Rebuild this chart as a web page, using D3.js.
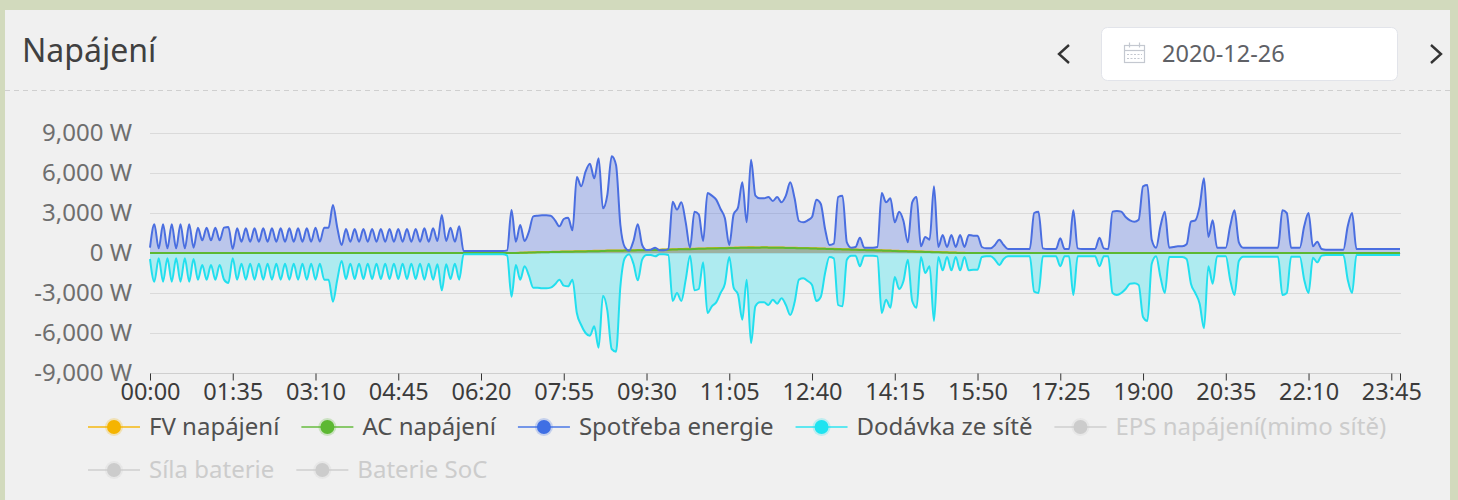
<!DOCTYPE html>
<html>
<head>
<meta charset="utf-8">
<script src="https://cdn.jsdelivr.net/npm/d3@7/dist/d3.min.js"></script>
<style>
html,body{margin:0;padding:0;background:#d2dabd;}
svg{display:block;font-family:"Noto Sans",sans-serif;}
</style>
</head>
<body>
<svg id="chart" width="1458" height="500"></svg>
<script>
// ---------- DATA ----------
const times = d3.range(288).map(i => String(Math.floor(i / 12)).padStart(2, "0") + ":" + String((i % 12) * 5).padStart(2, "0"));
const tickLabels = ["00:00","01:35","03:10","04:45","06:20","07:55","09:30","11:05","12:40","14:15","15:50","17:25","19:00","20:35","22:10","23:45"];
const tickMarks = tickLabels.concat(["23:55"]);
const yTicks = [-9000, -6000, -3000, 0, 3000, 6000, 9000];
const dateLabel = "2020-12-26";
const titleText = "Napájení";

const fvPower = [
0,0,0,0,0,0,0,0,0,0,
0,0,0,0,0,0,0,0,0,0,
0,0,0,0,0,0,0,0,0,0,
0,0,0,0,0,0,0,0,0,0,
0,0,0,0,0,0,0,0,0,0,
0,0,0,0,0,0,0,0,0,0,
0,0,0,0,0,0,0,0,0,0,
0,0,0,0,0,0,0,0,0,0,
0,0,0,0,0,20,30,40,50,60,
70,70,80,90,100,110,110,120,130,140,
140,150,160,160,170,180,180,190,190,200,
200,210,220,220,230,240,250,250,260,270,
280,290,300,310,310,320,330,340,350,360,
370,380,380,390,400,410,410,420,430,420,
420,430,420,410,420,410,400,400,390,380,
380,370,360,350,340,330,320,310,300,290,
280,270,260,250,240,230,220,210,200,190,
180,170,160,150,140,130,120,110,100,90,
80,70,60,50,40,30,20,10,0,0,
0,0,0,0,0,0,0,0,0,0,
0,0,0,0,0,0,0,0,0,0,
0,0,0,0,0,0,0,0,0,0,
0,0,0,0,0,0,0,0,0,0,
0,0,0,0,0,0,0,0,0,0,
0,0,0,0,0,0,0,0,0,0,
0,0,0,0,0,0,0,0,0,0,
0,0,0,0,0,0,0,0,0,0,
0,0,0,0,0,0,0,0,0,0,
0,0,0,0,0,0,0,0
];

const acPower = [
0,0,0,0,0,0,0,0,0,0,
0,0,0,0,0,0,0,0,0,0,
0,0,0,0,0,0,0,0,0,0,
0,0,0,0,0,0,0,0,0,0,
0,0,0,0,0,0,0,0,0,0,
0,0,0,0,0,0,0,0,0,0,
0,0,0,0,0,0,0,0,0,0,
0,0,0,0,0,0,0,0,0,0,
0,0,0,0,0,10,20,30,40,50,
50,60,70,80,80,90,100,100,110,120,
120,130,140,140,150,160,160,170,170,180,
180,190,200,200,210,220,230,230,240,250,
260,270,280,280,290,300,310,320,330,330,
340,350,360,370,380,380,390,400,400,400,
400,410,400,390,400,390,380,380,370,360,
350,350,340,330,320,310,300,290,280,270,
260,250,240,230,220,210,200,190,180,170,
160,150,140,130,120,110,100,90,80,70,
60,50,40,30,20,10,0,0,0,0,
0,0,0,0,0,0,0,0,0,0,
0,0,0,0,0,0,0,0,0,0,
0,0,0,0,0,0,0,0,0,0,
0,0,0,0,0,0,0,0,0,0,
0,0,0,0,0,0,0,0,0,0,
0,0,0,0,0,0,0,0,0,0,
0,0,0,0,0,0,0,0,0,0,
0,0,0,0,0,0,0,0,0,0,
0,0,0,0,0,0,0,0,0,0,
0,0,0,0,0,0,0,0
];

const consumption = [
400,2150,350,2150,350,2150,350,2150,350,2150,
400,1900,950,1900,950,1900,950,1900,1950,300,
1850,850,1850,850,1850,850,1850,850,1850,850,
1850,850,1850,850,1850,850,1850,850,1900,850,
1900,1900,3600,1900,600,1800,850,1800,850,1800,
850,1800,850,1800,850,1800,850,1800,850,1800,
850,1800,850,1850,850,1850,900,2850,900,1900,
850,2000,150,150,150,150,150,150,150,150,
150,150,200,3225,850,2100,900,1600,2750,2800,
2825,2825,2800,2450,2000,2550,2650,1700,5700,5000,
6100,6700,5600,7100,3350,4350,7250,6600,2100,450,
175,900,2150,600,225,250,400,200,200,300,
3850,3250,3800,2300,400,3100,2900,900,4500,4300,
4000,3300,2600,600,2900,3400,5300,2300,7000,4300,
4100,4100,4200,3900,4200,3800,4300,5300,4100,2400,
2300,2450,2700,4000,3700,1800,600,700,4200,4300,
800,400,450,1150,400,400,400,450,4500,3800,
4100,2300,3100,2400,800,3800,4200,500,1200,1000,
5000,450,1350,450,1350,450,1350,450,1350,1300,
1300,450,350,350,600,1000,600,300,300,300,
300,300,300,3000,3100,350,300,300,300,1100,
300,300,3200,350,300,300,300,300,1150,350,
300,3100,3150,3100,2700,2450,2350,2500,5000,5100,
1000,400,2000,3100,400,450,500,500,650,2350,
2450,3500,5600,1200,2450,400,400,400,2000,3200,
800,400,400,400,400,400,400,400,400,400,
3200,3000,400,400,400,2000,3000,500,850,300,
250,250,250,250,250,2000,3000,300,300,300,
300,300,300,300,300,300,300,300
];

const gridSupply = [
-450,-2150,-400,-2150,-400,-2150,-400,-2150,-400,-2150,
-450,-2000,-900,-2000,-900,-2000,-900,-2000,-2250,-400,
-2000,-800,-2000,-800,-2000,-800,-2000,-800,-2000,-800,
-2000,-800,-2000,-800,-2000,-800,-2000,-800,-2000,-800,
-2000,-2000,-3650,-2000,-600,-1950,-800,-1950,-800,-1950,
-800,-1950,-800,-1950,-800,-1950,-800,-1950,-800,-1950,
-800,-1950,-800,-2000,-800,-2000,-850,-2800,-850,-1950,
-800,-2000,-100,-100,-100,-100,-100,-100,-100,-100,
-100,-100,-200,-3275,-900,-2000,-1000,-1700,-2600,-2600,
-2650,-2650,-2600,-2350,-2000,-2450,-2500,-2000,-4500,-5400,
-6000,-6200,-5500,-7100,-3200,-4300,-7200,-7400,-2500,-400,
-100,-800,-2050,-500,-150,-150,-250,-100,-100,-150,
-3600,-3000,-3600,-2000,-200,-2800,-2700,-700,-4500,-4000,
-3700,-3000,-2300,-300,-2600,-3100,-5000,-2000,-6750,-4000,
-3700,-3700,-3900,-3500,-3800,-3400,-3900,-4650,-3700,-2000,
-1900,-2100,-2400,-3600,-3300,-1500,-300,-400,-3900,-4000,
-500,-200,-200,-1000,-200,-200,-200,-250,-4500,-3500,
-4100,-1800,-2700,-2100,-500,-3600,-4100,-300,-1500,-1000,
-5100,-300,-1300,-300,-1300,-300,-1300,-300,-1300,-1250,
-1250,-300,-250,-250,-500,-900,-450,-250,-250,-250,
-250,-250,-250,-2900,-3000,-250,-250,-250,-250,-1000,
-250,-250,-3150,-250,-250,-250,-250,-250,-1000,-250,
-250,-3000,-3150,-3000,-2700,-2300,-2275,-2400,-4800,-5100,
-800,-250,-1800,-3000,-300,-300,-300,-300,-450,-2300,
-3000,-3800,-5650,-1000,-2300,-250,-250,-250,-2000,-3150,
-600,-275,-275,-275,-275,-275,-275,-275,-275,-275,
-3150,-3000,-275,-275,-275,-2000,-3000,-350,-700,-200,
-150,-150,-150,-150,-150,-2000,-3000,-150,-150,-150,
-150,-150,-150,-150,-150,-150,-150,-150
];

const legendNames = ["FV napájení","AC napájení","Spotřeba energie","Dodávka ze sítě","EPS napájení(mimo sítě)","Síla baterie","Baterie SoC"];
const legendColors = ["#f5b400","#5cb832","#3f6fe4","#1fe3f0","#cccccc","#cccccc","#cccccc"];
const legendActive = [true,true,true,true,false,false,false];
const legendRow = [0,0,0,0,0,1,1];

// ---------- DRAW ----------
const svg = d3.select("#chart");
const fmt = d3.formatLocale({decimal: ".", thousands: ",", grouping: [3], currency: ["", ""], minus: "-"}).format(",");

svg.append("rect").attr("x", 5).attr("y", 10).attr("width", 1445).attr("height", 495).attr("fill", "#f0f0f0");

// title
svg.append("text").attr("x", 22).attr("y", 62).attr("font-size", 32).attr("fill", "#404040").text(titleText);

// dashed divider
svg.append("line").attr("x1", 5).attr("x2", 1450).attr("y1", 90.5).attr("y2", 90.5)
  .attr("stroke", "#cfcfcf").attr("stroke-width", 1).attr("stroke-dasharray", "5,4");

// date picker
svg.append("rect").attr("x", 1101.5).attr("y", 27.5).attr("width", 296).attr("height", 53).attr("rx", 6)
  .attr("fill", "#ffffff").attr("stroke", "#e2e4ea");
const cal = svg.append("g").attr("stroke", "#c4c8d0").attr("fill", "none").attr("stroke-width", 1.2);
cal.append("rect").attr("x", 1124.5).attr("y", 45.5).attr("width", 20).attr("height", 17);
cal.append("line").attr("x1", 1124.5).attr("x2", 1144.5).attr("y1", 50.5).attr("y2", 50.5);
cal.append("line").attr("x1", 1129.5).attr("x2", 1129.5).attr("y1", 42.5).attr("y2", 47.5);
cal.append("line").attr("x1", 1139.5).attr("x2", 1139.5).attr("y1", 42.5).attr("y2", 47.5);
[54.5, 58.5].forEach(yy => cal.append("line").attr("x1", 1127).attr("x2", 1142).attr("y1", yy).attr("y2", yy).attr("stroke-dasharray", "2,1.5"));
svg.append("text").attr("x", 1162).attr("y", 62).attr("font-size", 23.5).attr("fill", "#5f6166").text(dateLabel);
svg.append("path").attr("d", "M1069,45 L1059,54 L1069,63").attr("fill", "none").attr("stroke", "#333").attr("stroke-width", 2.4);
svg.append("path").attr("d", "M1431,45 L1441,54 L1431,63").attr("fill", "none").attr("stroke", "#333").attr("stroke-width", 2.4);

// scales
const x = d3.scalePoint().domain(times).range([150, 1400]);
const y = d3.scaleLinear().domain([-9000, 9000]).range([373, 133]);

// grid
svg.append("g").selectAll("line").data(yTicks).join("line")
  .attr("x1", 150).attr("x2", 1401).attr("y1", d => Math.round(y(d)) + 0.5).attr("y2", d => Math.round(y(d)) + 0.5)
  .attr("stroke", d => d === -9000 ? "#cfcfcf" : "#dadada").attr("stroke-width", 1);

// y axis labels
const yAxis = d3.axisLeft(y).tickValues(yTicks).tickSize(0).tickPadding(18).tickFormat(d => fmt(d) + " W");
const gy = svg.append("g").attr("transform", "translate(150,0)").call(yAxis);
gy.select(".domain").remove();
gy.selectAll("text").attr("font-size", 24).attr("font-family", "Noto Sans").attr("fill", "#6e6e6e");

// x axis
const xAxis = d3.axisBottom(x).tickValues(tickMarks).tickSize(7).tickPadding(3)
  .tickFormat(d => tickLabels.includes(d) ? d : "");
const gx = svg.append("g").attr("transform", "translate(0," + (Math.round(y(-9000)) + 0.5) + ")").call(xAxis);
gx.select(".domain").remove();
gx.selectAll("line").attr("stroke", "#333");
gx.selectAll("text").attr("font-size", 23.5).attr("font-family", "Noto Sans").attr("fill", "#3b3b3b");

// series
const series = [
  {values: fvPower, color: "#f5b400", fill: 0.3},
  {values: acPower, color: "#5cb832", fill: 0.3},
  {values: consumption, color: "#4a6ee0", fill: 0.32},
  {values: gridSupply, color: "#22dfee", fill: 0.32}
];
const area = d3.area().x((d, i) => x(times[i])).y0(y(0)).y1(d => y(d)).curve(d3.curveMonotoneX);
const line = d3.line().x((d, i) => x(times[i])).y(d => y(d)).curve(d3.curveMonotoneX);
const gs = svg.append("g");
series.forEach(s => {
  gs.append("path").datum(s.values).attr("d", area).attr("fill", s.color).attr("fill-opacity", s.fill);
});
series.forEach(s => {
  gs.append("path").datum(s.values).attr("d", line).attr("fill", "none").attr("stroke", s.color)
    .attr("stroke-width", 2).attr("stroke-linejoin", "round");
});

// legend
const rowY = [427, 470];
const cursor = [88, 88];
const lg = svg.append("g");
legendNames.forEach((name, k) => {
  const r = legendRow[k];
  const x0 = cursor[r];
  const cy = rowY[r];
  const col = legendColors[k];
  const g = lg.append("g");
  g.append("line").attr("x1", x0).attr("x2", x0 + 52).attr("y1", cy).attr("y2", cy)
    .attr("stroke", col).attr("stroke-width", 2).attr("stroke-opacity", 0.7);
  g.append("circle").attr("cx", x0 + 26).attr("cy", cy).attr("r", 9).attr("fill", col).attr("fill-opacity", 0.25);
  g.append("circle").attr("cx", x0 + 26).attr("cy", cy).attr("r", 7).attr("fill", col);
  const t = g.append("text").attr("x", x0 + 61).attr("y", cy).attr("dy", "0.35em")
    .attr("font-size", 24).attr("fill", legendActive[k] ? "#505050" : "#cccccc").text(name);
  const w = t.node().getComputedTextLength();
  cursor[r] = x0 + 61 + w + 22;
});
</script>
</body>
</html>
